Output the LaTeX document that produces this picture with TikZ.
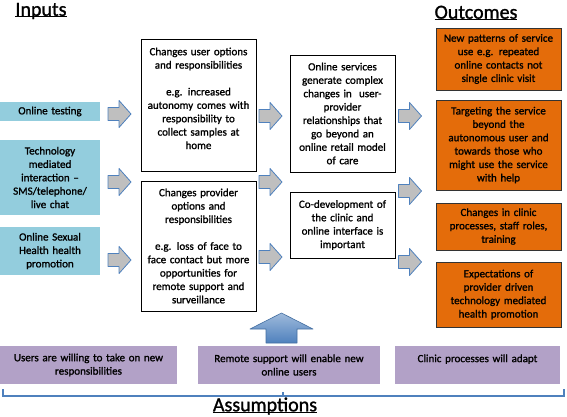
\documentclass[tikz,border=0pt]{standalone}
\usepackage{fontspec}
\setmainfont[FakeBold=1.2]{Carlito}

\definecolor{inblue}{HTML}{93CDDD}
\definecolor{outorange}{HTML}{E46C0A}
\definecolor{asspurple}{HTML}{B2A1C7}
\definecolor{arrblue}{HTML}{4F81BD}
\definecolor{arrgrey}{HTML}{BFBFBF}

% underlined heading, line close under the baseline
\newcommand\ulhead[1]{\setbox0\hbox{#1}\rlap{\rule[-1.6pt]{\wd0}{1pt}}\box0}

\begin{document}
\begin{tikzpicture}[x=1pt, y=-1pt,
    every node/.style = {font=\fontsize{11}{13.4}\selectfont,
                         align=center, inner sep=2pt, outer sep=0pt},
    heading/.style = {font=\fontsize{20}{24}\selectfont, inner sep=0pt},
    inbox/.style   = {fill=inblue, text width=96pt},% left column
    midbox/.style  = {draw, fill=white, line width=0.8pt, text width=111pt},
    svcbox/.style  = {draw, fill=white, line width=0.8pt, text width=101pt},
    outbox/.style  = {draw=black!80, fill=outorange, line width=0.6pt, text width=121pt},
    assbox/.style  = {fill=asspurple, minimum height=38pt},
    blockarr/.pic  = {% grey block arrow pointing right
        \draw[arrblue, fill=arrgrey, line width=0.8pt, line join=round]
            (-11.5,-6.5) -- (-0.5,-6.5) -- (-0.5,-13.5) -- (11.5,0)
            -- (-0.5,13.5) -- (-0.5,6.5) -- (-11.5,6.5) -- cycle;},
    uparr/.pic     = {% blue block arrow pointing up
        \draw[arrblue!85!black, top color=arrblue!55, bottom color=arrblue,
              line width=0.6pt, line join=round]
            (-15.5,15) -- (-15.5,1) -- (-31.5,1) -- (0,-15)
            -- (31.5,1) -- (15.5,1) -- (15.5,15) -- cycle;},
                        ]
\useasboundingbox (0,0) rectangle (567,416);

% headings
\node[heading] (hin)  at (41,11)   {\ulhead{Inputs}};
\node[heading] (hout) at (476,13)  {\ulhead{Outcomes}};
\node[heading] (hass) at (265,406) {\ulhead{Assumptions}};

% inputs
\node[inbox, minimum height=19pt] (in1) at (50,111.5) {Online testing};
\node[inbox, minimum height=75pt] (in2) at (50,177.5)
    {Technology\\mediated\\interaction --\\SMS/telephone/\\live chat};
\node[inbox, minimum height=48pt] (in3) at (50,251)
    {Online Sexual\\Health health\\promotion};

% changes
\node[midbox, minimum height=132pt] (chu) at (198.5,105)
    {Changes user options\\and responsibilities\\[13.4pt]
     e.g. increased\\autonomy comes with\\responsibility to\\collect samples at\\home\\ \mbox{}};
\node[midbox, minimum height=130pt] (chp) at (198.5,246)
    {Changes provider\\options and\\responsibilities\\[13.4pt]
     e.g. loss of face to\\face contact but more\\opportunities for\\remote support and\\surveillance};

% services
\node[svcbox, minimum height=117pt] (svc) at (342.5,113.5)
    {Online services\\generate complex\\changes in\ \ user-\\provider\\relationships that\\go beyond an\\online retail model\\of care};
\node[svcbox, minimum height=66pt] (codev) at (342.5,225)
    {Co-development of\\the clinic and\\online interface is\\important};

% outcomes
\node[outbox, minimum height=62pt] (out1) at (498.5,59)
    {New patterns of service\\use e.g. repeated\\online contacts not\\single clinic visit};
\node[outbox, minimum height=90pt] (out2) at (498.5,145)
    {Targeting the service\\beyond the\\autonomous user and\\towards those who\\might use the service\\with help};
\node[outbox, minimum height=47pt] (out3) at (498.5,226.5)
    {Changes in clinic\\processes, staff roles,\\training};
\node[outbox, minimum height=65pt] (out4) at (498.5,294.5)
    {Expectations of\\provider driven\\technology mediated\\health promotion};

% assumptions
\node[assbox, text width=173pt] (ass1) at (88.5,365)
    {Users are willing to take on new\\responsibilities};
\node[assbox, text width=178pt] (ass2) at (289,365)
    {Remote support will enable new\\online users};
\node[assbox, text width=161pt] (ass3) at (477.5,365)
    {Clinic processes will adapt\\ \mbox{}};

% block arrows between the columns
\foreach \y in {114,182,260}
    \pic at (119.5,\y) {blockarr};
\foreach \y in {116,182,257}
    \pic at (270.5,\y) {blockarr};
\foreach \y in {116,191,262}
    \pic at (410,\y) {blockarr};
\pic at (281.5,328) {uparr};

% brace under the assumptions
\draw[arrblue, line width=1.6pt] (3,389) -- (3,396) -- (564,396) -- (564,389);
\draw[arrblue, line width=1.2pt] (283,396) -- (283,392);
\end{tikzpicture}
\end{document}
